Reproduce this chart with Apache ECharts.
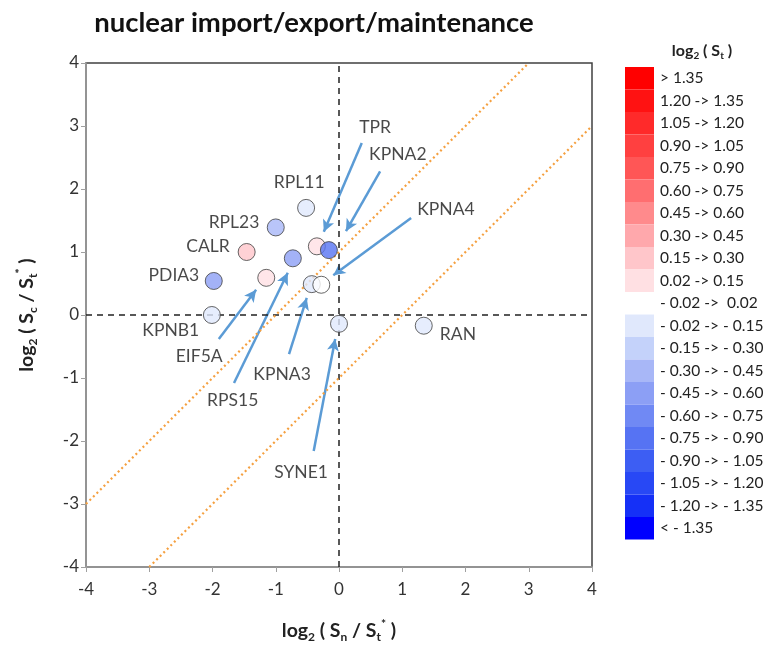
<!DOCTYPE html>
<html>
<head>
<meta charset="utf-8">
<script src="https://cdn.jsdelivr.net/npm/echarts@6/dist/echarts.min.js"></script>
<style>html,body{margin:0;padding:0;background:#fff}#c{width:770px;height:652px}</style>
</head>
<body>
<div id="c"></div>
<script>
// ---- data ----
var genes   = ['KPNB1','PDIA3','CALR','RPL23','RPL11','EIF5A','RPS15','TPR','KPNA2','KPNA3','KPNA4','SYNE1','RAN'];
var logSnSt = [-2.01,-1.98,-1.46,-1.00,-0.52,-1.15,-0.73,-0.35,-0.16,-0.43,-0.28,0.00,1.34];
var logScSt = [0.00,0.54,1.00,1.39,1.70,0.59,0.90,1.09,1.03,0.49,0.48,-0.14,-0.17];
var logSt   = [-0.10,-0.50,0.20,-0.40,-0.08,0.10,-0.50,0.10,-0.80,-0.12,0.00,-0.08,-0.08];
var axisTicks = [-4,-3,-2,-1,0,1,2,3,4];

// label anchor positions (data coords)
var labelNames = ['TPR','KPNA2','KPNA4','RPL11','RPL23','CALR','PDIA3','KPNB1','EIF5A','RPS15','KPNA3','SYNE1','RAN'];
var labelX = [0.57,0.93,1.69,-0.63,-1.66,-2.07,-2.61,-2.66,-2.21,-1.68,-0.90,-0.60,1.88];
var labelY = [2.98,2.55,1.68,2.11,1.47,1.09,0.63,-0.25,-0.65,-1.36,-0.95,-2.50,-0.30];

// arrows: start -> end (data coords)
var arrowFromX = [0.36,0.65,1.14,-1.90,-1.66,-0.79,-0.40];
var arrowFromY = [2.73,2.28,1.54,-0.38,-1.08,-0.62,-2.16];
var arrowToX   = [-0.24,0.11,-0.09,-1.31,-0.81,-0.51,-0.06];
var arrowToY   = [1.32,1.33,0.63,0.40,0.67,0.27,-0.38];

// legend bins (ascending)
var binMin   = [-Infinity,-1.35,-1.20,-1.05,-0.90,-0.75,-0.60,-0.45,-0.30,-0.15,-0.02,0.02,0.15,0.30,0.45,0.60,0.75,0.90,1.05,1.20,1.35];
var binMax   = [-1.35,-1.20,-1.05,-0.90,-0.75,-0.60,-0.45,-0.30,-0.15,-0.02,0.02,0.15,0.30,0.45,0.60,0.75,0.90,1.05,1.20,1.35,Infinity];
var binLabel = ['< - 1.35','- 1.20 -> - 1.35','- 1.05 -> - 1.20','- 0.90 -> - 1.05','- 0.75 -> - 0.90','- 0.60 -> - 0.75','- 0.45 -> - 0.60','- 0.30 -> - 0.45','- 0.15 -> - 0.30','- 0.02 -> - 0.15','- 0.02 ->  0.02','0.02 -> 0.15','0.15 -> 0.30','0.30 -> 0.45','0.45 -> 0.60','0.60 -> 0.75','0.75 -> 0.90','0.90 -> 1.05','1.05 -> 1.20','1.20 -> 1.35','> 1.35'];
var binColor = ['#0000ff','#1530f7','#2848f5','#3d5ef3','#5673f3','#7089f4','#8c9ff5','#a8b7f7','#c4d2fa','#e0e8fc','#ffffff','#ffe0e3','#ffc6ca','#ffa8ac','#ff8a8c','#ff6e70','#ff5656','#ff4040','#ff2a2a','#ff1212','#ff0000'];

var FONT = 'Lato';
var pts = genes.map(function(g,i){ return [logSnSt[i], logScSt[i], logSt[i], g]; });
var labs = labelNames.map(function(n,i){ return {value:[labelX[i], labelY[i]], name:n}; });
var arrows = arrowFromX.map(function(v,i){ return [{coord:[arrowFromX[i],arrowFromY[i]]},{coord:[arrowToX[i],arrowToY[i]]}]; });
var pieces = binMin.map(function(v,i){
  var p = {label: binLabel[i], color: binColor[i]};
  if (isFinite(binMin[i])) p.min = binMin[i];
  if (isFinite(binMax[i])) p.max = binMax[i];
  return p;
});

var rich = {
  sub: {fontSize: 12, fontWeight:'bold', fontFamily: FONT, verticalAlign:'bottom', lineHeight: 12, color:'#222'},
  sup: {fontSize: 12, fontWeight:'bold', fontFamily: FONT, verticalAlign:'top', lineHeight: 12, color:'#222'}
};

var chart = echarts.init(document.getElementById('c'));
chart.setOption({
  animation: false,
  title: [{
    text: 'nuclear import/export/maintenance',
    left: 309, top: 4, textAlign: 'center',
    textStyle: {fontFamily: FONT, fontWeight: 'bold', fontSize: 27.5, color: '#111'}
  },{
    text: 'log{sub|2} ( S{sub|t} )',
    left: 697, top: 36, textAlign: 'center',
    textStyle: {fontFamily: FONT, fontWeight: 'bold', fontSize: 16, color: '#222', lineHeight: 20,
      rich: {sub:{fontSize:10,fontWeight:'bold',fontFamily:FONT,verticalAlign:'bottom',lineHeight:10,color:'#222'}}}
  }],
  grid: {left: 86, right: 178, top: 63, bottom: 85, show: true, borderColor: '#404040', borderWidth: 1.5},
  xAxis: {
    type: 'value', min: -4, max: 4, interval: 1,
    name: 'log{sub|2} ( S{sub|n} / S{sub|t}{sup|*} )', nameLocation: 'middle', nameGap: 51,
    nameTextStyle: {fontFamily: FONT, fontWeight: 'bold', fontSize: 19.5, color: '#222', lineHeight: 25, rich: rich},
    axisLine: {show: true, onZero: false, lineStyle: {color: '#a0a0a0', width: 1.5}},
    axisTick: {show: true, length: 5, lineStyle: {color: '#a0a0a0'}},
    axisLabel: {fontFamily: FONT, fontSize: 17, color: '#333', margin: 14,
      formatter: function(v){ return axisTicks.indexOf(v) >= 0 ? String(v) : ''; }},
    splitLine: {show: false}
  },
  yAxis: {
    type: 'value', min: -4, max: 4, interval: 1,
    name: 'log{sub|2} ( S{sub|c} / S{sub|t}{sup|*} )', nameLocation: 'middle', nameGap: 47, nameRotate: 90,
    nameTextStyle: {fontFamily: FONT, fontWeight: 'bold', fontSize: 19.5, color: '#222', lineHeight: 25, rich: rich},
    axisLine: {show: true, onZero: false, lineStyle: {color: '#a0a0a0', width: 1.5}},
    axisTick: {show: true, length: 5, lineStyle: {color: '#a0a0a0'}},
    axisLabel: {fontFamily: FONT, fontSize: 17, color: '#333', margin: 7,
      formatter: function(v){ return axisTicks.indexOf(v) >= 0 ? String(v) : ''; }},
    splitLine: {show: false}
  },
  visualMap: {
    type: 'piecewise', seriesIndex: 0, dimension: 2,
    pieces: pieces,
    orient: 'vertical', left: 625, top: 67, padding: 0,
    itemWidth: 29, itemHeight: 22.5, itemGap: 0, itemSymbol: 'rect',
    textGap: 6, align: 'left', showLabel: true,
    textStyle: {fontFamily: FONT, fontSize: 15.5, color: '#222'},
    selectedMode: false, hoverLink: false
  },
  series: [{
    type: 'scatter', z: 5,
    data: pts,
    symbol: 'circle', symbolSize: 17,
    itemStyle: {borderColor: '#404040', borderWidth: 1},
    encode: {x: 0, y: 1}
  },{
    type: 'scatter', z: 3, silent: true,
    data: labs, symbolSize: 1, itemStyle: {color: 'rgba(0,0,0,0)'},
    label: {show: true, position: 'inside', formatter: '{b}', fontFamily: FONT, fontSize: 17.5, color: '#1a1a1a'},
    markLine: {
      silent: true, symbol: ['none','arrow'], symbolSize: [9, 12], precision: 4,
      label: {show: false},
      lineStyle: {color: '#5b9bd5', width: 2.5, type: 'solid'},
      emphasis: {disabled: true},
      data: arrows
    }
  },{
    type: 'scatter', z: 1, silent: true, data: [],
    markLine: {
      silent: true, symbol: ['none','none'], label: {show: false},
      emphasis: {disabled: true},
      data: [
        {xAxis: 0, lineStyle: {color: '#222', width: 1.5, type: [6,5]}},
        {yAxis: 0, lineStyle: {color: '#222', width: 1.5, type: [6,5]}},
        [{coord: [-4,-3], lineStyle: {color: '#f5a040', width: 2.2, type: [2,3]}}, {coord: [3,4]}],
        [{coord: [-3,-4], lineStyle: {color: '#f5a040', width: 2.2, type: [2,3]}}, {coord: [4,3]}]
      ]
    }
  }]
});
</script>
</body>
</html>
